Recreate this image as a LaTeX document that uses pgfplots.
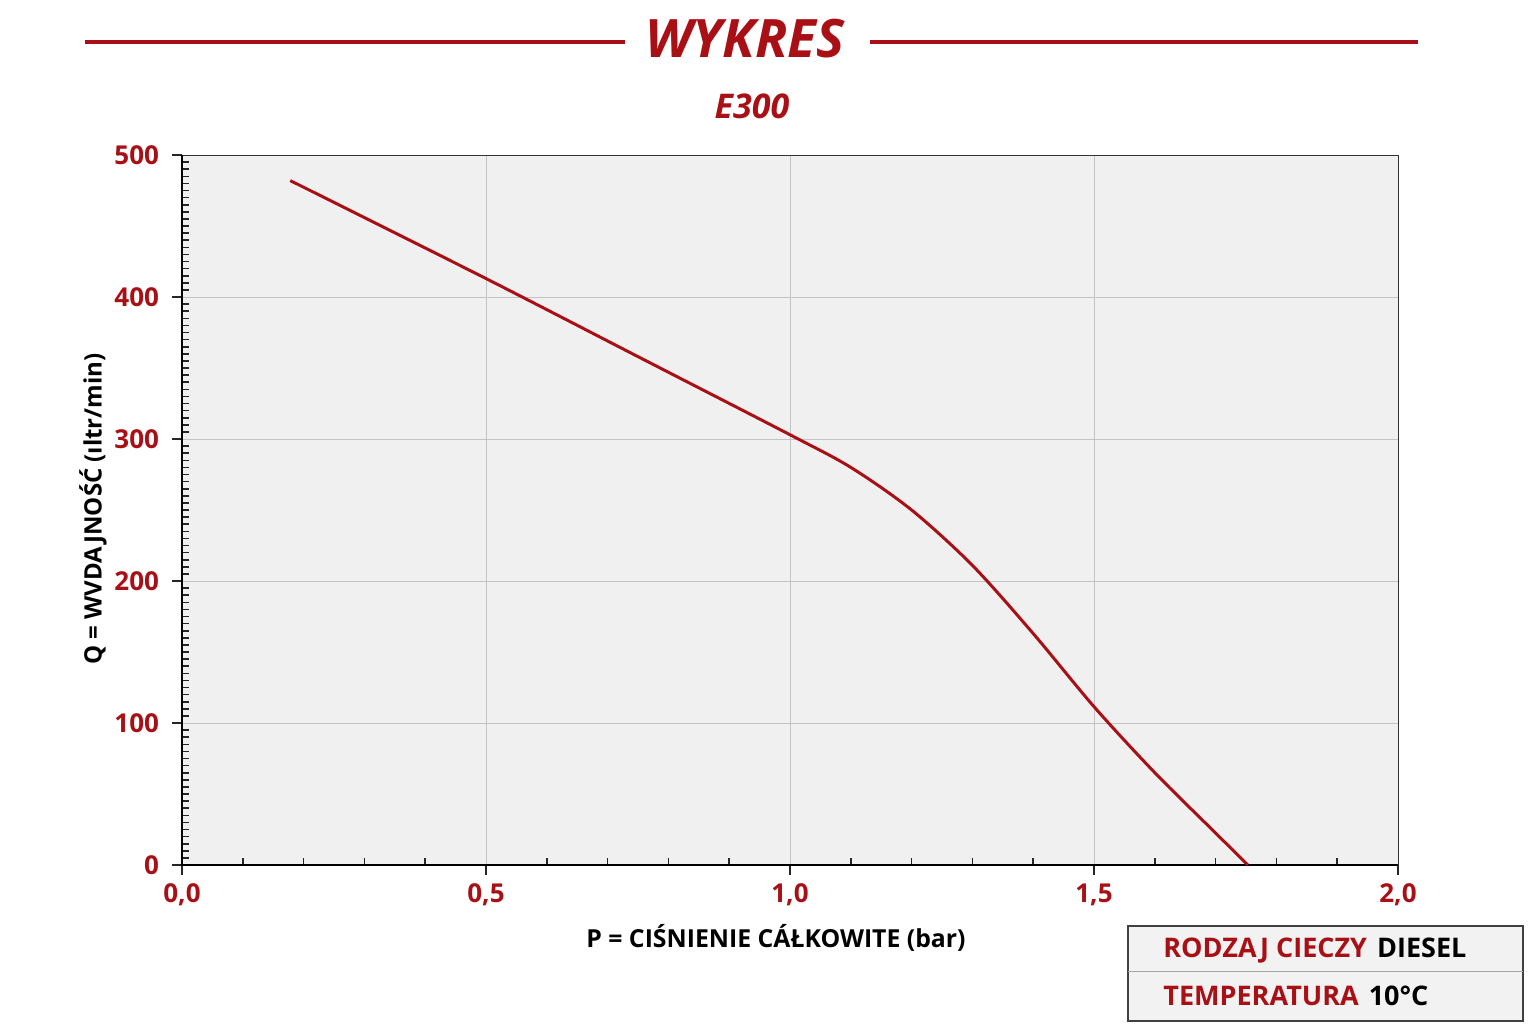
\documentclass[border=0pt]{standalone}
\usepackage{pgfplots}
\pgfplotsset{compat=1.18}
\usepackage{fontspec}
\setmainfont{Open Sans}
\definecolor{wred}{RGB}{168,16,22}
\definecolor{gridgray}{RGB}{195,195,195}
\definecolor{bggray}{RGB}{240,240,240}
\begin{document}
\begin{tikzpicture}
\useasboundingbox (-91pt,-79.5pt) rectangle (677pt,432.5pt);
% title
\draw[wred, line width=2pt] (-48.5pt,411.5pt) -- (221.5pt,411.5pt);
\draw[wred, line width=2pt] (344pt,411.5pt) -- (618pt,411.5pt);
\node[text=wred, font=\bfseries\itshape\fontsize{26.5}{30}\selectfont] at (281.5pt,413pt) {WYKRES};
\node[text=wred, font=\bfseries\itshape\fontsize{17}{20}\selectfont] at (285pt,379.5pt) {E300};
\begin{axis}[
  at={(0,0)}, anchor=south west,
  scale only axis, width=608pt, height=355pt,
  xmin=0, xmax=2, ymin=0, ymax=500,
  xtick={0,0.5,1,1.5,2}, ytick={0,100,200,300,400,500},
  minor x tick num=4, minor y tick num=19,
  tick pos=left, tick align=inside,
  major tick length=5pt, minor tick length=3.5pt,
  every major x tick/.append style={yshift=-5pt},
  every major y tick/.append style={xshift=-5pt},
  tick style={black!85, line width=0.8pt},
  grid=major, major grid style={gridgray, line width=0.5pt},
  axis background/.style={fill=bggray},
  axis line style={black!80, line width=0.5pt},
  /pgf/number format/assume math mode=true,
  ticklabel style={font=\bfseries\fontsize{13}{15}\selectfont, text=wred},
  xticklabel style={yshift=-6pt, /pgf/number format/fixed, /pgf/number format/fixed zerofill, /pgf/number format/precision=1, /pgf/number format/use comma},
  yticklabel style={xshift=-8pt},
  clip=false
]
\draw[black, line width=0.9pt] (rel axis cs:0,1) -- (rel axis cs:0,0) -- (rel axis cs:1,0);
% Q (litr/min) vs P (bar)
\addplot[wred, line width=1.5pt, smooth, tension=0.5] coordinates {
  (0.178,482) (0.5,413) (0.75,358) (1.0,303) (1.1,280) (1.2,250)
  (1.3,211) (1.4,163) (1.5,111.5) (1.6,65) (1.7,22.5) (1.753,0)
};
\end{axis}
% axis labels
\node[font=\bfseries\fontsize{12.4}{14}\selectfont] at (297pt,-36.5pt) {P = CIŚNIENIE CÁŁKOWITE (bar)};
\node[font=\bfseries\fontsize{12}{14}\selectfont, rotate=90] at (-44.5pt,178pt) {Q = WVDAJNOŚĆ (ıltr/min)};
% info box
\draw[black!75, line width=0.7pt, fill=black!5] (473pt,-30.5pt) rectangle (670.5pt,-78pt);
\draw[black!35, line width=0.5pt] (473pt,-53pt) -- (670.5pt,-53pt);
\node[anchor=west, inner sep=0pt, font=\bfseries\fontsize{13.5}{16}\selectfont] at (490.5pt,-43pt) {\textcolor{wred}{RODZAJ CIECZY}\hspace{5pt}DIESEL};
\node[anchor=west, inner sep=0pt, font=\bfseries\fontsize{13.5}{16}\selectfont] at (490.5pt,-65.5pt) {\textcolor{wred}{TEMPERATURA}\hspace{5pt}10°C};
\end{tikzpicture}
\end{document}
